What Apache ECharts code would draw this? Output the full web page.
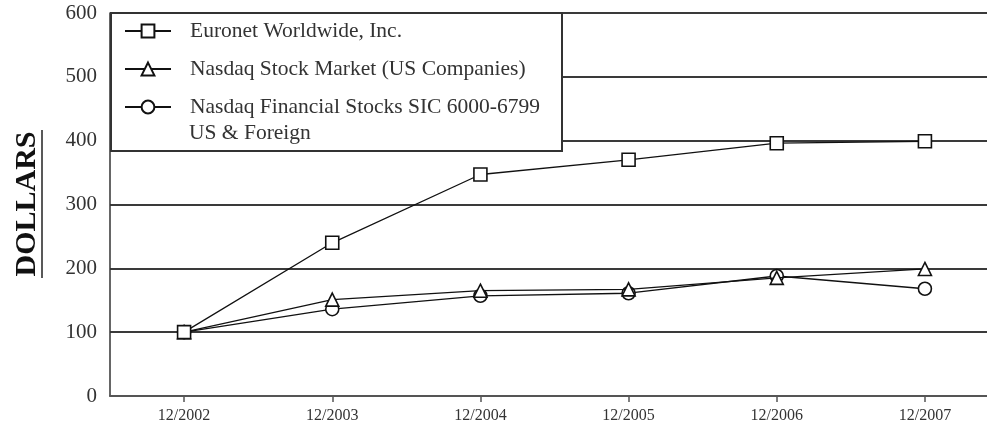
<!DOCTYPE html>
<html>
<head>
<meta charset="utf-8">
<script src="https://cdn.jsdelivr.net/npm/echarts@6/dist/echarts.min.js"></script>
<style>
html,body{margin:0;padding:0;background:#fff;}
#chart{width:987px;height:434px;}
</style>
</head>
<body>
<div id="chart"></div>
<script>
var categories = ['12/2002', '12/2003', '12/2004', '12/2005', '12/2006', '12/2007'];
var euronet = [100, 240, 347, 370, 396, 399];
var nasdaqUS = [100, 151, 165, 167, 185, 199];
var nasdaqFin = [100, 136, 157, 161, 188, 168];
var seriesNames = ['Euronet Worldwide, Inc.', 'Nasdaq Stock Market (US Companies)', 'Nasdaq Financial Stocks SIC 6000-6799'];
var legendSecondLine = 'US & Foreign';
var yTicks = {min: 0, max: 600, interval: 100};

var serif = '"Liberation Serif", "Times New Roman", serif';
var chart = echarts.init(document.getElementById('chart'), null, {renderer: 'canvas'});

function mkSeries(name, data, symbol, z) {
  return {
    name: name,
    type: 'line',
    data: data,
    symbol: symbol,
    symbolSize: 13,
    z: z,
    lineStyle: {color: '#111', width: 1.3},
    itemStyle: {color: '#fff', borderColor: '#111', borderWidth: 1.6},
    emphasis: {disabled: true},
    animation: false
  };
}

chart.setOption({
  animation: false,
  backgroundColor: '#fff',
  grid: {left: 110, top: 13, height: 383, width: 889, containLabel: false, outerBoundsMode: 'none'},
  xAxis: {
    type: 'category',
    data: categories,
    boundaryGap: true,
    axisLine: {show: true, lineStyle: {color: '#555', width: 2}},
    axisTick: {show: true, alignWithLabel: true, length: 6, lineStyle: {color: '#555', width: 1.5}},
    axisLabel: {color: '#333', fontFamily: serif, fontSize: 16, margin: 12},
    splitLine: {show: false}
  },
  yAxis: {
    type: 'value',
    min: yTicks.min, max: yTicks.max, interval: yTicks.interval,
    axisLine: {show: true, lineStyle: {color: '#333', width: 1.5}},
    axisTick: {show: false},
    axisLabel: {color: '#333', fontFamily: serif, fontSize: 21, margin: 13},
    splitLine: {show: true, lineStyle: {color: '#3a3a3a', width: 2}}
  },
  legend: {
    show: true,
    orient: 'vertical',
    left: 119,
    top: 13,
    padding: [7, 5, 5, 5],
    itemWidth: 46,
    itemHeight: 16,
    itemGap: 16,
    z: 10,
    data: seriesNames,
    selectedMode: false,
    textStyle: {color: '#333', fontFamily: serif, fontSize: 21.5, padding: [0, 0, 0, 14]}
  },
  graphic: [
    {type: 'rect', z: 5, shape: {x: 111, y: 13, width: 451, height: 138},
     style: {fill: '#fff', stroke: '#333', lineWidth: 2}},
    {type: 'text', z: 11, x: 189, y: 133,
     style: {text: legendSecondLine, fill: '#333', font: '21.5px ' + serif, textAlign: 'left', textVerticalAlign: 'middle'}},
    {type: 'text', z: 11, x: 27, y: 204, rotation: Math.PI / 2,
     style: {text: 'DOLLARS', fill: '#111', font: 'bold 30px ' + serif, textAlign: 'center', textVerticalAlign: 'middle'}},
    {type: 'line', z: 11, shape: {x1: 42, y1: 130, x2: 42, y2: 278},
     style: {stroke: '#222', lineWidth: 1.5}}
  ],
  series: [
    mkSeries(seriesNames[2], nasdaqFin, 'circle', 2),
    mkSeries(seriesNames[1], nasdaqUS, 'triangle', 3),
    mkSeries(seriesNames[0], euronet, 'rect', 4)
  ]
});
</script>
</body>
</html>
